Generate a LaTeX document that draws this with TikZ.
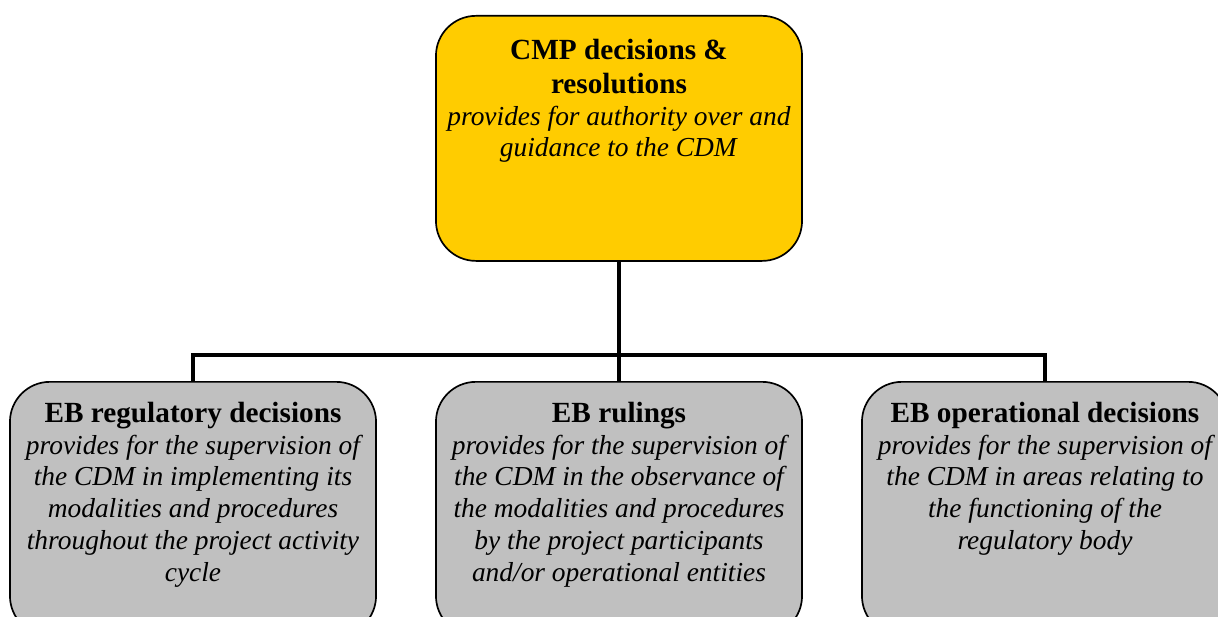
\documentclass[tikz,border=0pt]{standalone}
\usepackage{fontspec}
\setmainfont{Liberation Serif}[
  UprightFont={Liberation Serif},
  BoldFont={Liberation Serif Bold},
  ItalicFont={Liberation Serif Italic},
  BoldItalicFont={Liberation Serif Bold Italic}]

\definecolor{cmpyellow}{HTML}{FFCC00}
\definecolor{ebgrey}{HTML}{C0C0C0}

% text sits at the top of the box, not in the middle
\newcommand{\boxtext}[3]{\begin{minipage}[t][#1][t]{8.9cm}\centering
\fontsize{20.8}{24}\selectfont\textbf{#2}\\
\fontsize{19.5}{22.7}\selectfont\textit{#3}\end{minipage}}

\begin{document}
\begin{tikzpicture}[x=0.025cm,y=-0.025cm,
  orgbox/.style={draw,line width=1.2pt,rounded corners=1cm,anchor=north,
    minimum width=9.15cm,inner xsep=0.1cm,inner ysep=0.5cm},
  link/.style={line width=3.5pt}]
\clip (0,0) rectangle (1218,617);
\useasboundingbox (0,0) rectangle (1218,617);
\node[orgbox,fill=cmpyellow,inner ysep=0.58cm] (cmp) at (619,15)
  {\boxtext{4.965cm}{CMP decisions \&\\resolutions}{provides for authority over and\\guidance to the CDM}};
\node[orgbox,fill=ebgrey] (reg) at (193,381)
  {\boxtext{5.35cm}{EB regulatory decisions}{provides for the supervision of\\the CDM in implementing its\\modalities and procedures\\throughout the project activity\\cycle}};
\node[orgbox,fill=ebgrey] (rul) at (619,381)
  {\boxtext{5.35cm}{EB rulings}{provides for the supervision of\\the CDM in the observance of\\the modalities and procedures\\by the project participants\\and/or operational entities}};
\node[orgbox,fill=ebgrey] (ops) at (1045,381)
  {\boxtext{5.35cm}{EB operational decisions}{provides for the supervision of\\the CDM in areas relating to\\the functioning of the\\regulatory body}};
% the bar the three boxes hang from
\coordinate (bus) at (619,355);
\draw[link] (cmp.south) -- (bus);
\draw[link] (bus) -| (reg.north);
\draw[link] (bus) -| (ops.north);
\draw[link] (bus) -- (rul.north);
\end{tikzpicture}
\end{document}
